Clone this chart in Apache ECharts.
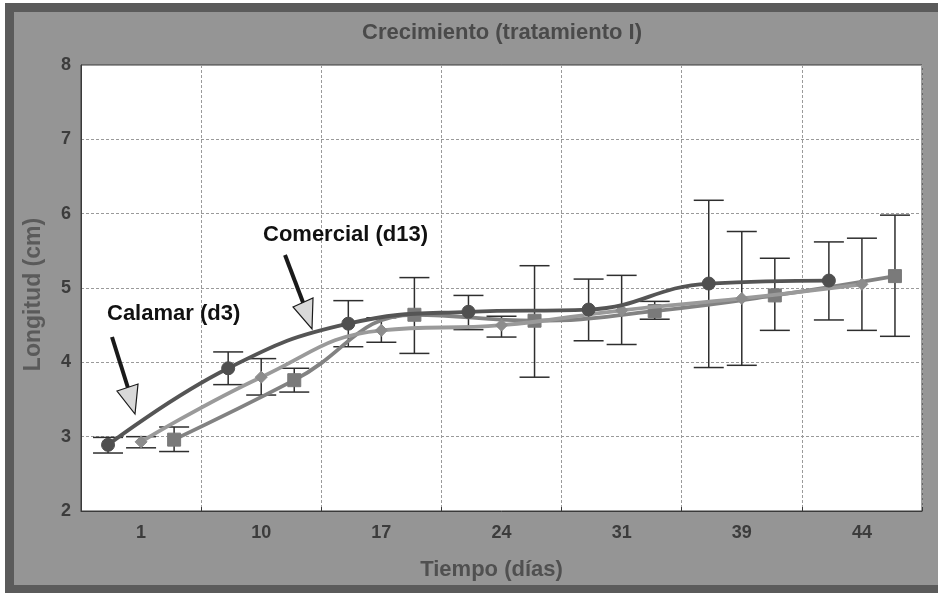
<!DOCTYPE html>
<html>
<head>
<meta charset="utf-8">
<script src="https://cdn.jsdelivr.net/npm/echarts@6/dist/echarts.min.js"></script>
<style>
html,body{margin:0;padding:0;background:#fff;}
#c{width:938px;height:594px;}
</style>
</head>
<body>
<div id="c"></div>
<script>
const categories = ['1', '10', '17', '24', '31', '39', '44'];
const yTicks = [2, 3, 4, 5, 6, 7, 8];

// Serie con círculos (oscura)
const circleMean = [2.89, 3.92, 4.52, 4.68, 4.71, 5.06, 5.10];
const circleLow  = [2.78, 3.70, 4.21, 4.44, 4.29, 3.93, 4.57];
const circleHigh = [2.99, 4.14, 4.83, 4.90, 5.12, 6.18, 5.62];

// Serie con rombos (gris claro)
const diamondMean = [2.93, 3.80, 4.43, 4.50, 4.70, 4.86, 5.05];
const diamondLow  = [2.85, 3.56, 4.27, 4.34, 4.24, 3.96, 4.43];
const diamondHigh = [3.00, 4.05, 4.60, 4.62, 5.17, 5.76, 5.67];

// Serie con cuadrados (gris medio)
const squareMean = [2.96, 3.76, 4.64, 4.56, 4.69, 4.90, 5.16];
const squareLow  = [2.80, 3.60, 4.12, 3.80, 4.58, 4.43, 4.35];
const squareHigh = [3.13, 3.92, 5.14, 5.30, 4.82, 5.40, 5.98];

const FONT = '"Liberation Sans", Arial, sans-serif';

const groups = [
  {name: 'circulos', mean: circleMean, low: circleLow, high: circleHigh, offset: -0.275,
   symbol: 'circle', size: 13, color: '#4f4f4f', line: '#555555'},
  {name: 'rombos', mean: diamondMean, low: diamondLow, high: diamondHigh, offset: 0,
   symbol: 'diamond', size: 12, color: '#8c8c8c', line: '#9a9a9a'},
  {name: 'cuadrados', mean: squareMean, low: squareLow, high: squareHigh, offset: 0.275,
   symbol: 'rect', size: 13, color: '#7a7a7a', line: '#828282'}
];

function errRender(params, api) {
  const x = api.value(0);
  const top = api.coord([x, api.value(2)]);
  const bot = api.coord([x, api.value(1)]);
  const hw = 15;
  const style = {stroke: '#2e2e2e', lineWidth: 1.5};
  return {
    type: 'group',
    children: [
      {type: 'line', shape: {x1: top[0], y1: top[1], x2: bot[0], y2: bot[1]}, style: style},
      {type: 'line', shape: {x1: top[0] - hw, y1: top[1], x2: top[0] + hw, y2: top[1]}, style: style},
      {type: 'line', shape: {x1: bot[0] - hw, y1: bot[1], x2: bot[0] + hw, y2: bot[1]}, style: style}
    ]
  };
}

const series = [];
groups.forEach(function (g) {
  series.push({
    name: g.name + '_err',
    type: 'custom',
    xAxisIndex: 1,
    renderItem: errRender,
    data: g.mean.map(function (v, i) { return [i + 0.5 + g.offset, g.low[i], g.high[i]]; }),
    z: 2,
    silent: true
  });
});
groups.forEach(function (g, k) {
  series.push({
    name: g.name,
    type: 'line',
    xAxisIndex: 1,
    smooth: 0.45,
    symbol: g.symbol,
    symbolSize: g.size,
    showAllSymbol: true,
    data: g.mean.map(function (v, i) { return [i + 0.5 + g.offset, v]; }),
    lineStyle: {color: g.line, width: 3.8},
    itemStyle: {color: g.color, borderColor: g.color},
    z: 5 - k,
    animation: false
  });
});

const chart = echarts.init(document.getElementById('c'), null, {renderer: 'canvas'});
chart.setOption({
  animation: false,
  backgroundColor: 'transparent',
  textStyle: {fontFamily: FONT},
  graphic: [
    {type: 'rect', z: -10, shape: {x: 5, y: 3, width: 933, height: 590}, style: {fill: '#5b5b5b'}},
    {type: 'rect', z: -9, shape: {x: 14, y: 12, width: 924, height: 573}, style: {fill: '#959595'}},
    {type: 'text', z: 100, left: 263, top: 224,
     style: {text: 'Comercial (d13)', font: 'bold 22px ' + FONT, fill: '#111'}},
    {type: 'text', z: 100, left: 107, top: 303,
     style: {text: 'Calamar (d3)', font: 'bold 22px ' + FONT, fill: '#111'}},
    {type: 'line', z: 100, shape: {x1: 285, y1: 255, x2: 304, y2: 305}, style: {stroke: '#1a1a1a', lineWidth: 4}},
    {type: 'polygon', z: 101, shape: {points: [[293, 307], [313, 298], [312, 329]]},
     style: {fill: '#d9d9d9', stroke: '#1a1a1a', lineWidth: 1.2}},
    {type: 'line', z: 100, shape: {x1: 112, y1: 337, x2: 128, y2: 388}, style: {stroke: '#1a1a1a', lineWidth: 4}},
    {type: 'polygon', z: 101, shape: {points: [[117, 391], [138, 384], [135, 414]]},
     style: {fill: '#d9d9d9', stroke: '#1a1a1a', lineWidth: 1.2}}
  ],
  title: {
    text: 'Crecimiento (tratamiento I)',
    left: 497, top: 17, textAlign: 'center',
    textStyle: {fontFamily: FONT, fontSize: 22, fontWeight: 'bold', color: '#4a4a4a'}
  },
  grid: {left: 81, top: 65, right: 16, bottom: 83, show: true,
         backgroundColor: '#ffffff', borderColor: '#3a3a3a', borderWidth: 1},
  xAxis: [
    {
      type: 'category', data: categories, boundaryGap: true,
      name: 'Tiempo (días)', nameLocation: 'middle', nameGap: 48,
      nameTextStyle: {fontFamily: FONT, fontSize: 22, fontWeight: 'bold', color: '#505050',
                      padding: [0, 20, 0, 0]},
      axisLine: {show: true, lineStyle: {color: '#3a3a3a'}},
      axisTick: {show: true, inside: true, length: 4, lineStyle: {color: '#3a3a3a'}},
      axisLabel: {fontFamily: FONT, fontSize: 18, fontWeight: 'bold', color: '#3c3c3c', margin: 13},
      splitLine: {show: true, interval: 0, lineStyle: {color: '#9a9a9a', width: 1, type: [3, 2]}}
    },
    {type: 'value', min: 0, max: 7, show: false}
  ],
  yAxis: {
    type: 'value', min: yTicks[0], max: yTicks[yTicks.length - 1], interval: 1,
    name: 'Longitud (cm)', nameLocation: 'middle', nameGap: 36,
    nameTextStyle: {fontFamily: FONT, fontSize: 23, fontWeight: 'bold', color: '#5a5a5a',
                    padding: [0, 13, 0, 0]},
    axisLine: {show: true, lineStyle: {color: '#3a3a3a'}},
    axisTick: {show: false},
    axisLabel: {fontFamily: FONT, fontSize: 18, fontWeight: 'bold', color: '#3c3c3c', margin: 10},
    splitLine: {show: true, lineStyle: {color: '#9a9a9a', width: 1, type: [3, 2]}}
  },
  series: series
});
</script>
</body>
</html>
